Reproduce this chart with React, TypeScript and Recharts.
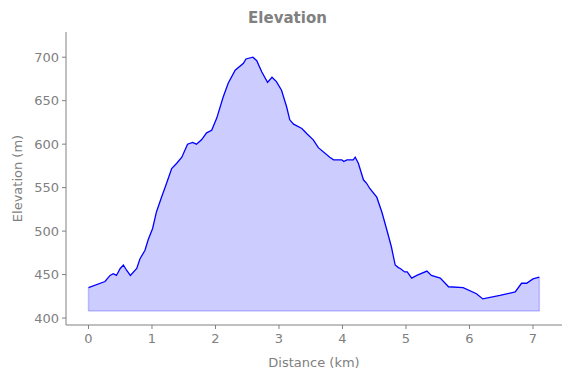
import { AreaChart, Area, XAxis, YAxis, ReferenceLine } from "recharts"

// distance along the route (km) and elevation (m)
const distanceKm = [
  0, 0.26, 0.34, 0.39, 0.44, 0.5, 0.55, 0.6, 0.66, 0.76, 0.81, 0.89, 0.94, 1.01, 1.07, 1.15, 1.22, 1.31,
  1.39, 1.47, 1.56, 1.64, 1.7, 1.78, 1.86, 1.94, 2.02, 2.12, 2.2, 2.31, 2.44, 2.48, 2.59, 2.65, 2.73,
  2.82, 2.89, 2.96, 3.04, 3.12, 3.17, 3.23, 3.36, 3.44, 3.54, 3.62, 3.8, 3.86, 3.99, 4.02, 4.07, 4.17,
  4.2, 4.25, 4.33, 4.38, 4.43, 4.54, 4.62, 4.7, 4.77, 4.83, 4.88, 4.91, 4.98, 5.02, 5.09, 5.17, 5.33,
  5.4, 5.54, 5.67, 5.9, 6.11, 6.21, 6.48, 6.72, 6.82, 6.9, 7.0, 7.1,
]
const elevationM = [
  435, 442, 449, 451, 449, 457, 461, 455, 449, 457, 468, 478, 490, 503, 522, 539, 553, 572,
  578, 585, 600, 602, 600, 605, 613, 616, 630, 654, 670, 685, 693, 698, 700, 696, 683,
  671, 677, 672, 662, 643, 628, 623, 618, 612, 605, 596, 585, 582, 582, 580, 582, 582,
  585, 578, 559, 555, 549, 539, 522, 501, 482, 461, 458, 457, 453, 453, 446, 449, 454,
  449, 446, 436, 435, 428, 422, 426, 430, 440, 440, 445, 447,
]
const xTicks = [0, 1, 2, 3, 4, 5, 6, 7]
const yTicks = [400, 450, 500, 550, 600, 650, 700]
const baseElevation = 408

const data = distanceKm.map((d, i) => ({ d, elev: elevationM[i] }))
const firstD = distanceKm[0]
const lastD = distanceKm[distanceKm.length - 1]

const gray = "#808080"
const font = "'DejaVu Sans', sans-serif"
const edge = "rgba(0,0,255,0.2)"

export default function App() {
  return (
    <div style={{ position: "absolute", left: 0, top: 0, width: 571, height: 378, background: "#fff", fontFamily: font }}>
      <div
        style={{
          position: "absolute",
          top: 9,
          width: 571,
          textAlign: "center",
          fontSize: 15,
          fontWeight: "bold",
          color: gray,
          marginLeft: 2,
        }}
      >
        Elevation
      </div>
      <AreaChart width={571} height={378} data={data} margin={{ top: 32, right: 9, left: 0, bottom: 0 }}>
        <XAxis
          dataKey="d"
          type="number"
          domain={[-0.354, 7.457]}
          ticks={xTicks}
          allowDataOverflow
          height={53}
          tick={{ fill: gray, fontSize: 13, fontFamily: font }}
          tickSize={4}
          tickMargin={5}
          axisLine={{ stroke: gray }}
          tickLine={{ stroke: gray }}
          label={{ value: "Distance (km)", position: "insideBottom", offset: 11, fill: gray, fontSize: 13, fontFamily: font }}
        />
        <YAxis
          type="number"
          domain={[392, 729]}
          ticks={yTicks}
          allowDataOverflow
          width={66}
          tick={{ fill: gray, fontSize: 13, fontFamily: font }}
          tickSize={4}
          tickMargin={3}
          axisLine={{ stroke: gray }}
          tickLine={{ stroke: gray }}
          label={{
            value: "Elevation (m)",
            angle: -90,
            position: "insideLeft",
            offset: 17,
            fill: gray,
            fontSize: 13,
            fontFamily: font,
            style: { textAnchor: "middle" },
          }}
        />
        <Area
          type="linear"
          dataKey="elev"
          baseValue={baseElevation}
          stroke="#0000ff"
          strokeWidth={1.3}
          fill="#0000ff"
          fillOpacity={0.2}
          isAnimationActive={false}
          dot={false}
          activeDot={false}
        />
        {/* faint outline of the filled region, like fill_between's edge */}
        <ReferenceLine
          segment={[{ x: firstD, y: baseElevation }, { x: lastD, y: baseElevation }]}
          stroke={edge}
          strokeWidth={1.5}
        />
        <ReferenceLine
          segment={[{ x: firstD, y: baseElevation }, { x: firstD, y: elevationM[0] }]}
          stroke={edge}
          strokeWidth={1.5}
        />
        <ReferenceLine
          segment={[{ x: lastD, y: baseElevation }, { x: lastD, y: elevationM[elevationM.length - 1] }]}
          stroke={edge}
          strokeWidth={1.5}
        />
      </AreaChart>
    </div>
  )
}
